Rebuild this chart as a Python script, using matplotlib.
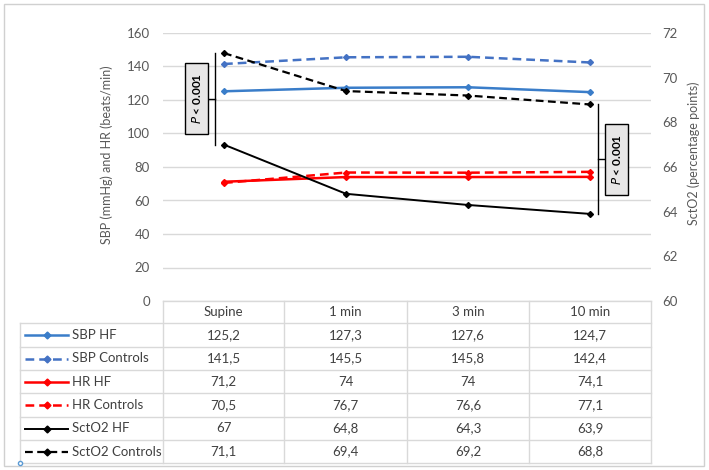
import matplotlib
matplotlib.use("Agg")
import matplotlib.pyplot as plt
from matplotlib.patches import Rectangle
from matplotlib.lines import Line2D

plt.rcParams['font.family'] = ['Lato', 'DejaVu Sans']

categories = ["Supine", "1 min", "3 min", "10 min"]
sbp_hf = [125.2, 127.3, 127.6, 124.7]
sbp_controls = [141.5, 145.5, 145.8, 142.4]
hr_hf = [71.2, 74, 74, 74.1]
hr_controls = [70.5, 76.7, 76.6, 77.1]
scto2_hf = [67, 64.8, 64.3, 63.9]
scto2_controls = [71.1, 69.4, 69.2, 68.8]
left_ticks = [0, 20, 40, 60, 80, 100, 120, 140, 160]
right_ticks = [60, 62, 64, 66, 68, 70, 72]

W, H = 709, 470
fig = plt.figure(figsize=(W / 100, H / 100), dpi=100)

def fx(x):
    return x / W

def fy(y):
    return 1 - y / H

# outer border
fig.add_artist(Rectangle((fx(4), fy(466)), fx(700), (466 - 4) / H, transform=fig.transFigure,
                         fill=False, edgecolor='#d0d0d0', lw=1))

ax_l, ax_r, ax_t, ax_b = 163, 651, 33, 301
ax = fig.add_axes([fx(ax_l), fy(ax_b), (ax_r - ax_l) / W, (ax_b - ax_t) / H])
ax2 = ax.twinx()

x = list(range(len(categories)))
mk = dict(marker='D', markersize=3)
series = [
    (ax, sbp_hf, '#3A7DC9', '-', 1.8),
    (ax, sbp_controls, '#4472C4', (0, (3.5, 2)), 1.8),
    (ax, hr_hf, '#FF0000', '-', 1.8),
    (ax, hr_controls, '#FF0000', (0, (3.5, 2)), 1.8),
    (ax2, scto2_hf, '#000000', '-', 1.4),
    (ax2, scto2_controls, '#000000', (0, (3.5, 2)), 1.6),
]
for a, vals, c, ls, lw in series:
    a.plot(x, vals, color=c, linestyle=ls, lw=lw, **mk, zorder=3)

ax.set_xlim(-0.5, 3.5)
ax.set_ylim(0, 160)
ax2.set_ylim(60, 72)
ax.set_yticks(left_ticks)
ax2.set_yticks(right_ticks)
ax.set_xticks([])
ax.grid(axis='y', color='#d9d9d9', lw=1)
ax.set_axisbelow(True)
for a in (ax, ax2):
    for s in a.spines.values():
        s.set_visible(False)
ax.tick_params(axis='y', length=0, pad=9.5, labelsize=9.5, labelcolor='#595959')
ax2.tick_params(axis='y', length=0, pad=8, labelsize=9.5, labelcolor='#595959')

fig.text(fx(107), fy(155), "SBP (mmHg) and HR (beats/min)", rotation=90, ha='center', va='center',
         fontsize=9, color='#595959')
fig.text(fx(694), fy(153), "SctO2 (percentage points)", rotation=90, ha='center', va='center',
         fontsize=9, color='#595959')

# P-value brackets
def bracket(xline, xb0, xb1, y_top, y_bot):
    ym = (y_top + y_bot) / 2
    ax2.plot([xline, xline], [y_top, y_bot], color='black', lw=1, clip_on=False)
    xc = xb1 if xb1 < xline else xb0
    ax2.plot([xc, xline], [ym, ym], color='black', lw=1, clip_on=False)
    h = 3.18
    ax2.add_patch(Rectangle((xb0, ym - h / 2), xb1 - xb0, h, facecolor='#e7e6e6', edgecolor='black',
                            lw=1, clip_on=False, zorder=4))
    ax2.text((xb0 + xb1) / 2, ym, r"$\it{P}$ < 0.001", rotation=90, ha='center', va='center',
             fontsize=8.5, fontweight='bold', color='black', zorder=5)

bracket(-0.075, -0.32, -0.13, scto2_controls[0], scto2_hf[0])
bracket(3.065, 3.12, 3.31, scto2_controls[-1], scto2_hf[-1])

# data table
grid_c = '#d9d9d9'
col_edges = [163, 284, 407, 529, 651]
row_edges = [301, 323, 347, 370, 393, 417, 440, 463]
legend_left = 20

def hline(y, x0, x1):
    fig.add_artist(Line2D([fx(x0), fx(x1)], [fy(y), fy(y)], color=grid_c, lw=1))

def vline(xp, y0, y1):
    fig.add_artist(Line2D([fx(xp), fx(xp)], [fy(y0), fy(y1)], color=grid_c, lw=1))

hline(row_edges[0], col_edges[0], col_edges[-1])
for r in row_edges[1:]:
    hline(r, legend_left, col_edges[-1])
vline(legend_left, row_edges[1], row_edges[-1])
for c in col_edges:
    vline(c, row_edges[0], row_edges[-1])

tfs = 9.5
for i, cat in enumerate(categories):
    cx = (col_edges[i] + col_edges[i + 1]) / 2
    fig.text(fx(cx), fy((row_edges[0] + row_edges[1]) / 2), cat, ha='center', va='center',
             fontsize=tfs, color='#404040')

names = ["SBP HF", "SBP Controls", "HR HF", "HR Controls", "SctO2 HF", "SctO2 Controls"]
all_vals = [sbp_hf, sbp_controls, hr_hf, hr_controls, scto2_hf, scto2_controls]
for j, (name, vals, s) in enumerate(zip(names, all_vals, series)):
    cy = (row_edges[j + 1] + row_edges[j + 2]) / 2
    _, _, c, ls, lw = s
    fig.add_artist(Line2D([fx(25), fx(68)], [fy(cy), fy(cy)], color=c, linestyle=ls, lw=lw))
    fig.add_artist(Line2D([fx(46.5)], [fy(cy)], color=c, marker='D', markersize=3.5, lw=0))
    fig.text(fx(72), fy(cy), name, ha='left', va='center', fontsize=tfs, color='#404040')
    for i, v in enumerate(vals):
        cx = (col_edges[i] + col_edges[i + 1]) / 2
        fig.text(fx(cx), fy(cy), f"{v:g}".replace('.', ','), ha='center', va='center',
                 fontsize=tfs, color='#404040')

fig.add_artist(Line2D([fx(20)], [fy(463)], marker='o', markersize=3, markerfacecolor='white',
                      markeredgecolor='#5b9bd5', lw=0))

fig.savefig("out.png", dpi=100)
